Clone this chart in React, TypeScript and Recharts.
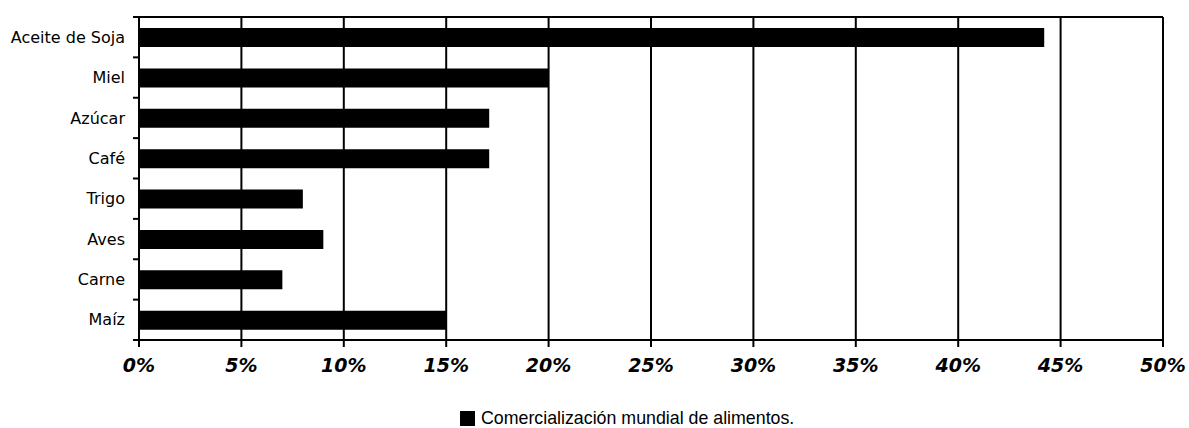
import React from "react";
import { BarChart, Bar, XAxis, YAxis, CartesianGrid, Legend } from "recharts";

const categories = ["Aceite de Soja", "Miel", "Azúcar", "Café", "Trigo", "Aves", "Carne", "Maíz"];
const values = [44.2, 20, 17.1, 17.1, 8, 9, 7, 15];
const xTicks = [0, 5, 10, 15, 20, 25, 30, 35, 40, 45, 50];
const seriesName = "Comercialización mundial de alimentos.";

const data = categories.map((name, i) => ({ name, value: values[i] }));

const LABEL_GAP = 14;
const TICK_LEN = 6;

const CategoryTick = (props: any) => {
  const { x, y, payload } = props;
  const half = payload && payload.offset ? payload.offset : 0;
  const axisX = x + LABEL_GAP;
  return (
    <g>
      <text x={x} y={y} dy="0.355em" textAnchor="end" fill="#000" fontSize={16} fontFamily="'DejaVu Sans', Tahoma, sans-serif">
        {payload.value}
      </text>
      <line x1={axisX - TICK_LEN} x2={axisX} y1={y + half} y2={y + half} stroke="#000" strokeWidth={2} />
      {payload.index === 0 ? (
        <line x1={axisX - TICK_LEN} x2={axisX} y1={y - half} y2={y - half} stroke="#000" strokeWidth={2} />
      ) : null}
    </g>
  );
};

const LegendContent = () => (
  <div style={{ display: "flex", alignItems: "center", justifyContent: "flex-start", paddingLeft: 460, paddingTop: 20, fontFamily: "'Liberation Sans', Arial, sans-serif", fontSize: 17.8, lineHeight: "17px", color: "#000" }}>
    <span style={{ display: "inline-block", width: 15, height: 15, background: "#000", marginRight: 6 }} />
    <span>{seriesName}</span>
  </div>
);

export default function App() {
  return (
    <div style={{ position: "absolute", left: 0, top: 0, width: 1189, height: 428, background: "#fff" }}>
      <BarChart
        width={1189}
        height={428}
        data={data}
        layout="vertical"
        margin={{ top: 16, right: 26, bottom: 0, left: 0 }}
        barCategoryGap={0}
      >
        <CartesianGrid horizontal={false} stroke="#000" strokeWidth={2} />
        <XAxis
          type="number"
          domain={[0, 50]}
          ticks={xTicks}
          interval={0}
          tickFormatter={(v: number) => `${v}%`}
          axisLine={{ stroke: "#000", strokeWidth: 2 }}
          tickLine={{ stroke: "#000", strokeWidth: 2 }}
          tickSize={7}
          tickMargin={12}
          height={50}
          tick={{ fill: "#000", fontSize: 19, fontWeight: "bold", fontStyle: "italic", fontFamily: "'DejaVu Sans', Verdana, sans-serif" }}
        />
        <XAxis
          xAxisId="top"
          orientation="top"
          type="number"
          domain={[0, 50]}
          axisLine={{ stroke: "#000", strokeWidth: 2 }}
          tick={false}
          tickLine={false}
          height={1}
        />
        <YAxis
          type="category"
          dataKey="name"
          width={139}
          axisLine={{ stroke: "#000", strokeWidth: 2 }}
          tickLine={false}
          tickSize={0}
          tickMargin={LABEL_GAP}
          interval={0}
          tick={<CategoryTick />}
        />
        <Legend verticalAlign="bottom" height={38} content={<LegendContent />} />
        <Bar dataKey="value" name={seriesName} fill="#000" barSize={19} isAnimationActive={false} />
      </BarChart>
    </div>
  );
}
